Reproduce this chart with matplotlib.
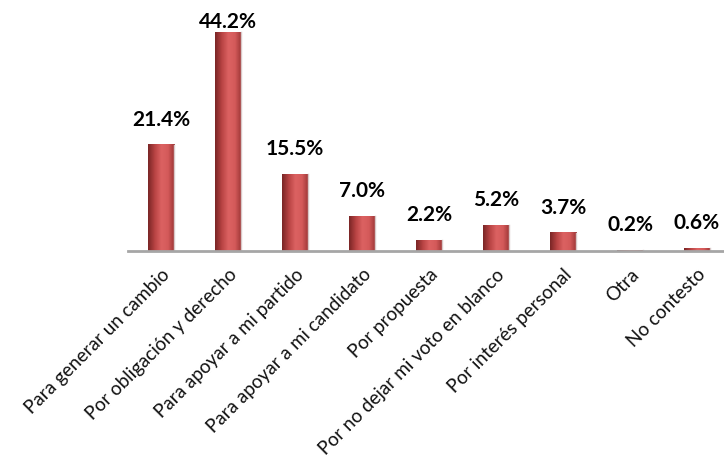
import matplotlib
matplotlib.use("Agg")
import matplotlib.pyplot as plt
import numpy as np
from matplotlib.colors import LinearSegmentedColormap

categorias = [
    "Para generar un cambio",
    "Por obligación y derecho",
    "Para apoyar a mi partido",
    "Para apoyar a mi candidato",
    "Por propuesta",
    "Por no dejar mi voto en blanco",
    "Por interés personal",
    "Otra",
    "No contesto",
]
valores = [21.4, 44.2, 15.5, 7.0, 2.2, 5.2, 3.7, 0.2, 0.6]
etiquetas = ["21.4%", "44.2%", "15.5%", "7.0%", "2.2%", "5.2%", "3.7%", "0.2%", "0.6%"]

plt.rcParams["font.family"] = ["Lato", "DejaVu Sans"]

W, H = 724, 460
fig = plt.figure(figsize=(W / 100, H / 100), dpi=100)
left = 127.5 / W
ax = fig.add_axes([left, 208 / H, 1 - left, 247.7 / H])

x = np.arange(len(valores))
bars = ax.bar(x, valores, width=0.4, color="none", edgecolor="none")

# degradado tipo cilindro
cmap = LinearSegmentedColormap.from_list(
    "cil", ["#7a2626", "#b84343", "#dc6262", "#d45a5a", "#9a3434"])
grad = np.linspace(0, 1, 64).reshape(1, -1)
for b in bars:
    x0, w, h = b.get_x(), b.get_width(), b.get_height()
    ax.imshow(grad, cmap=cmap, aspect="auto", extent=(x0, x0 + w, 0, h),
              zorder=2, interpolation="bilinear")
    ax.plot([x0 + w, x0 + w], [0, h], color="#d8c8c8", lw=1, zorder=2)

# etiquetas de valor (la más alta queda pegada al borde superior, como en Excel)
for xi, v, t in zip(x, valores, etiquetas):
    ax.text(xi, min(v + 3.2, 44.5), t, ha="center", va="bottom", fontsize=15,
            fontweight="bold", color="black")

ax.set_xlim(-0.5, -0.5 + (W - 127.5) / 67.0)
ax.set_ylim(0, 50)
ax.set_yticks([])
for s in ["top", "right", "left"]:
    ax.spines[s].set_visible(False)
ax.spines["bottom"].set_color("#a6a6a6")
ax.spines["bottom"].set_linewidth(2)
ax.set_xticks(x)
ax.set_xticklabels(categorias, rotation=45, ha="right", rotation_mode="anchor",
                   fontsize=13.6, color="#111111")
ax.tick_params(axis="x", length=0, pad=10)

fig.savefig("out.png", dpi=100)
